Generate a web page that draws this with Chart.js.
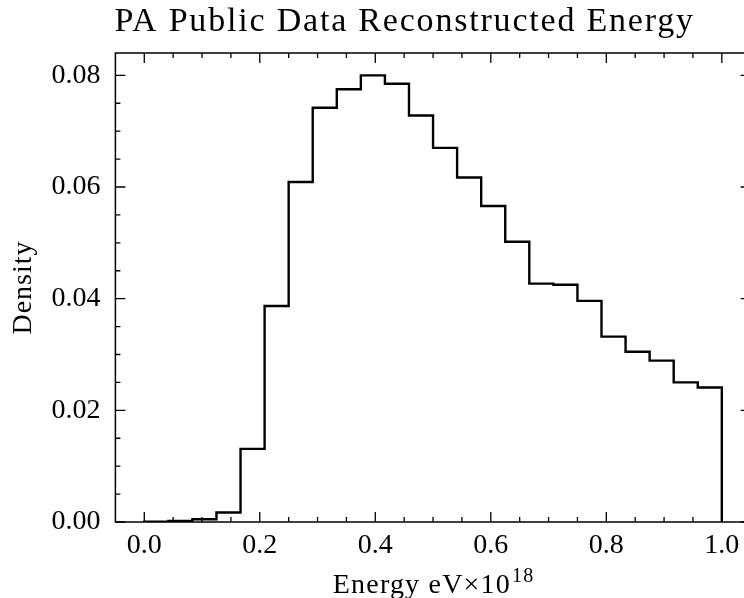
<!DOCTYPE html>
<html>
<head>
<meta charset="utf-8">
<script src="https://cdn.jsdelivr.net/npm/chart.js@4.4.0/dist/chart.umd.min.js"></script>
<style>
  html, body { margin: 0; padding: 0; background: #fff; overflow: hidden; }
  #wrap { position: relative; width: 760px; height: 598px; }
</style>
</head>
<body>
<div id="wrap"><canvas id="graph"></canvas></div>
<script>
// labels
const chartTitle = 'PA Public Data Reconstructed Energy';
const xTitle = 'Energy eV\u00d710';
const xTitleExp = '18';
const yTitle = 'Density';

// histogram: 24 equal bins between binStart and binEnd, density per bin
const binStart = 0.0;
const binEnd = 1.0;
const density = [
  0.00005, 0.0002, 0.0005, 0.0017, 0.0131, 0.0387,
  0.0609, 0.0742, 0.0775, 0.0800, 0.0785, 0.0728,
  0.0670, 0.0617, 0.0566, 0.0502, 0.0427, 0.0425,
  0.0396, 0.0332, 0.0305, 0.0289, 0.0250, 0.0241
];

// axes
const xTicks = [0.0, 0.2, 0.4, 0.6, 0.8, 1.0];
const yTicks = [0.00, 0.02, 0.04, 0.06, 0.08];
const xMinorStep = 0.05;
const yMinorStep = 0.005;

const FONT = '"Liberation Serif", "Times New Roman", serif';

// step outline like matplotlib histtype='step':
// each point is a left bin edge, the line runs flat to the next edge then jumps
function stepPoints() {
  const w = (binEnd - binStart) / density.length;
  const pts = [{x: binStart, y: 0}];
  density.forEach((d, i) => pts.push({x: binStart + i * w, y: d}));
  pts.push({x: binEnd, y: density[density.length - 1]});
  pts.push({x: binEnd, y: 0});
  return pts;
}

function minorList(min, max, step, majors) {
  const out = [];
  for (let v = min; v <= max + 1e-9; v += step) {
    const r = Math.round(v / step) * step;
    if (!majors.some(m => Math.abs(m - r) < 1e-9)) out.push(r);
  }
  return out;
}

// inward ticks on all four sides + box frame (scienceplots look)
const framePlugin = {
  id: 'frame',
  afterDatasetsDraw(chart) {
    const {ctx, chartArea: a, scales: {x, y}} = chart;
    ctx.save();
    ctx.strokeStyle = '#000';
    ctx.lineWidth = 1.3;
    ctx.beginPath();
    const xMinor = minorList(0.05, 1.0, xMinorStep, xTicks);
    const yMinor = minorList(yMinorStep, 0.08, yMinorStep, yTicks);
    const vTick = (v, len) => {
      const px = x.getPixelForValue(v);
      ctx.moveTo(px, a.bottom); ctx.lineTo(px, a.bottom - len);
      ctx.moveTo(px, a.top); ctx.lineTo(px, a.top + len);
    };
    const hTick = (v, len) => {
      const py = y.getPixelForValue(v);
      ctx.moveTo(a.left, py); ctx.lineTo(a.left + len, py);
      ctx.moveTo(a.right, py); ctx.lineTo(a.right - len, py);
    };
    xTicks.forEach(v => vTick(v, 10));
    xMinor.forEach(v => vTick(v, 5));
    yTicks.forEach(v => hTick(v, 10));
    yMinor.forEach(v => hTick(v, 5));
    ctx.stroke();
    ctx.lineWidth = 1.5;
    ctx.strokeRect(a.left, a.top, a.right - a.left, a.bottom - a.top);
    ctx.restore();
  },
  afterDraw(chart) {
    const {ctx, chartArea: a} = chart;
    ctx.save();
    ctx.fillStyle = '#000';
    ctx.textBaseline = 'alphabetic';

    // title, left aligned with the axes
    ctx.font = '34px ' + FONT;
    ctx.letterSpacing = '1.8px';
    ctx.textAlign = 'left';
    ctx.fillText(chartTitle, a.left - 1, 31);

    // x axis title with superscript
    ctx.letterSpacing = '1.2px';
    ctx.font = '28px ' + FONT;
    const mainW = ctx.measureText(xTitle).width;
    ctx.font = '20px ' + FONT;
    const expW = ctx.measureText(xTitleExp).width;
    const cx = (a.left + a.right) / 2;
    const x0 = cx - (mainW + expW) / 2;
    ctx.font = '28px ' + FONT;
    ctx.fillText(xTitle, x0, 593);
    ctx.font = '20px ' + FONT;
    ctx.fillText(xTitleExp, x0 + mainW + 1, 582);

    // y axis title, rotated
    ctx.font = '28px ' + FONT;
    ctx.letterSpacing = '1px';
    ctx.translate(31, (a.top + a.bottom) / 2);
    ctx.rotate(-Math.PI / 2);
    ctx.textAlign = 'center';
    ctx.fillText(yTitle, 0, 0);
    ctx.restore();
  }
};

const chart = new Chart(document.getElementById('graph'), {
  type: 'line',
  data: {
    datasets: [{
      label: yTitle,
      data: stepPoints(),
      stepped: 'before',
      borderColor: '#000',
      borderWidth: 2.4,
      pointRadius: 0,
      fill: false,
      tension: 0
    }]
  },
  options: {
    responsive: true,
    maintainAspectRatio: false,
    animation: false,
    layout: {padding: {top: 53, right: 9.3, bottom: 0, left: 0}},
    plugins: {
      legend: {display: false},
      title: {display: false},
      tooltip: {enabled: false}
    },
    scales: {
      x: {
        type: 'linear',
        min: -0.05,
        max: 1.05,
        afterBuildTicks: s => { s.ticks = xTicks.map(v => ({value: v})); },
        afterFit: s => { s.height = 76; },
        grid: {display: false, drawTicks: false},
        border: {display: false},
        ticks: {
          color: '#000',
          padding: 7,
          maxRotation: 0,
          autoSkip: false,
          font: {family: FONT, size: 28},
          callback: v => Number(v).toFixed(1)
        }
      },
      y: {
        type: 'linear',
        min: 0,
        max: 0.084,
        afterBuildTicks: s => { s.ticks = yTicks.map(v => ({value: v})); },
        afterFit: s => { s.width = 115.4; },
        grid: {display: false, drawTicks: false},
        border: {display: false},
        ticks: {
          color: '#000',
          padding: 15,
          autoSkip: false,
          font: {family: FONT, size: 28},
          callback: v => Number(v).toFixed(2)
        }
      }
    }
  },
  plugins: [framePlugin]
});
</script>
</body>
</html>
